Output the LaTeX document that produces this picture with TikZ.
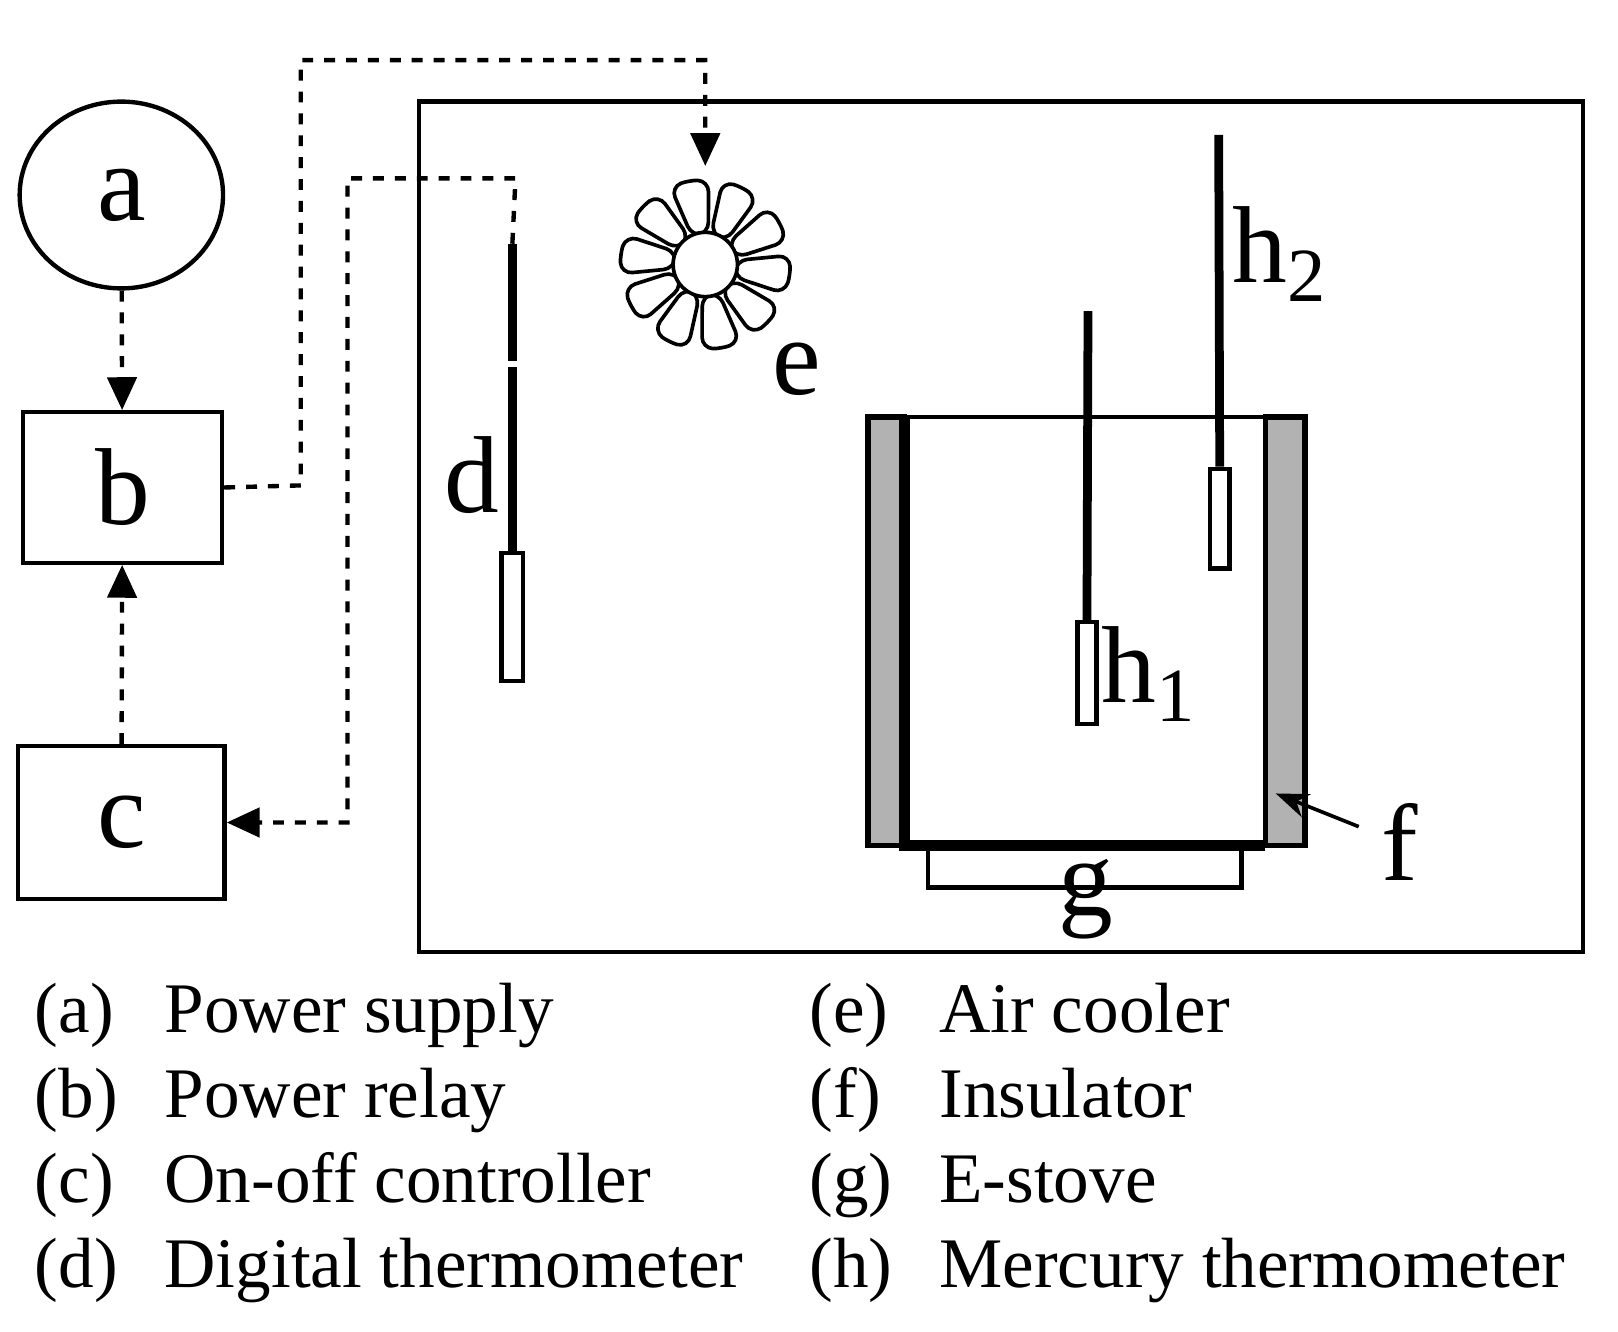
\documentclass[tikz,border=0pt]{standalone}
\usepackage{fontspec}
\setmainfont{Liberation Serif}
\usetikzlibrary{arrows.meta,shapes.geometric,calc}
\begin{document}
\begin{tikzpicture}[x=0.01cm,y=-0.01cm,
  wire/.style={dashed, line width=1.2pt},
  sig/.style={wire, -{Triangle[length=9pt,width=8pt]}},
  lbl/.style={font=\fontsize{30}{30}\selectfont, inner sep=0pt},
  leg/.style={font=\fontsize{19.5}{22}\selectfont, anchor=base west, inner sep=0pt},
  box/.style={draw, line width=1.2pt}]
\useasboundingbox (0,0) rectangle (1560,1284);
% controller side
\node (a) [ellipse, draw, line width=1.2pt, minimum width=1.96cm, minimum height=1.8cm, lbl] at (117,188) {a};
\node (b) [box, minimum width=1.92cm, minimum height=1.45cm, lbl] at (118,470) {b};
\node (c) [box, minimum width=1.99cm, minimum height=1.47cm, lbl] at (117,793) {c};
\draw[sig] (a) -- (b);
\draw[sig] (c) -- (b);
% chamber
\draw[line width=1.2pt] (404,98) rectangle (1526,918);
% fan
\coordinate (e0) at (680,255);
\coordinate (etop) at (680,160);
\foreach \k in {0,...,9}
  \draw[line width=1pt, fill=white, rounded corners=3pt, rotate around={\k*36+10:(e0)}]
    ($(e0)+(-8,-29)$) -- ($(e0)+(-20,-79)$) to[bend left=12] ($(e0)+(17,-79)$) -- ($(e0)+(8,-29)$) -- cycle;
\node (e) [circle, draw, line width=1pt, fill=white, minimum size=0.62cm] at (e0) {};
\node [lbl] at (768,356) {e};
% digital thermometer
\coordinate (dtop) at (494,235);
\node (dbulb) [box, minimum width=0.21cm, minimum height=1.23cm, inner sep=0pt] at (494,595) {};
\draw[line width=2.4pt] (dtop) -- (494,348);
\draw[line width=2.4pt] (494,354) -- (dbulb.north);
\node [lbl] at (455,458) {d};
\draw[sig] (b.east) -- (290,468) -- (290,58) -- (680,58) -- (etop);
\draw[sig] (dtop) -- (497,172) -- (335,172) -- (335,793) -- (c.east);
% vessel
\draw[line width=1.5pt, fill=gray!60] (837,402) rectangle (872,815);
\draw[line width=1.5pt, fill=gray!60] (1220,402) rectangle (1258,815);
\draw[line width=3pt] (872,402) -- (872,815) -- (1220,815);
\draw[box] (837,402) -- (1258,402);
\node (g) [box, minimum width=3.02cm, minimum height=0.39cm, inner sep=0pt] at (1046,836) {};
\node [lbl, anchor=north] at (1047,828) {g};
% mercury thermometers
\node (h1b) [box, minimum width=0.18cm, minimum height=0.98cm, inner sep=0pt] at (1048,649) {};
\draw[line width=2.4pt] (1049,300) -- (h1b.north);
\node [lbl] at (1108,650) {h\textsubscript{1}};
\node (h2b) [box, minimum width=0.19cm, minimum height=0.96cm, inner sep=0pt] at (1176,500) {};
\draw[line width=2.4pt] (1175,130) -- (h2b.north);
\node [lbl] at (1234,245) {h\textsubscript{2}};
% insulator label
\node (f) [lbl] at (1350,812) {f};
\coordinate (fw) at (1230,765);
\draw[line width=1pt, -{Stealth[length=9pt]}] (1310,797) -- (fw);
% legend
\foreach \y/\l/\t/\r/\s in {995/a/Power supply/e/Air cooler, 1077/b/Power relay/f/Insulator,
  1159/c/On-off controller/g/E-stove, 1241/d/Digital thermometer/h/Mercury thermometer}{
  \node[leg] at (33,\y) {(\l)};
  \node[leg] at (158,\y) {\t};
  \node[leg] at (780,\y) {(\r)};
  \node[leg] at (905,\y) {\s};
}
\end{tikzpicture}
\end{document}
